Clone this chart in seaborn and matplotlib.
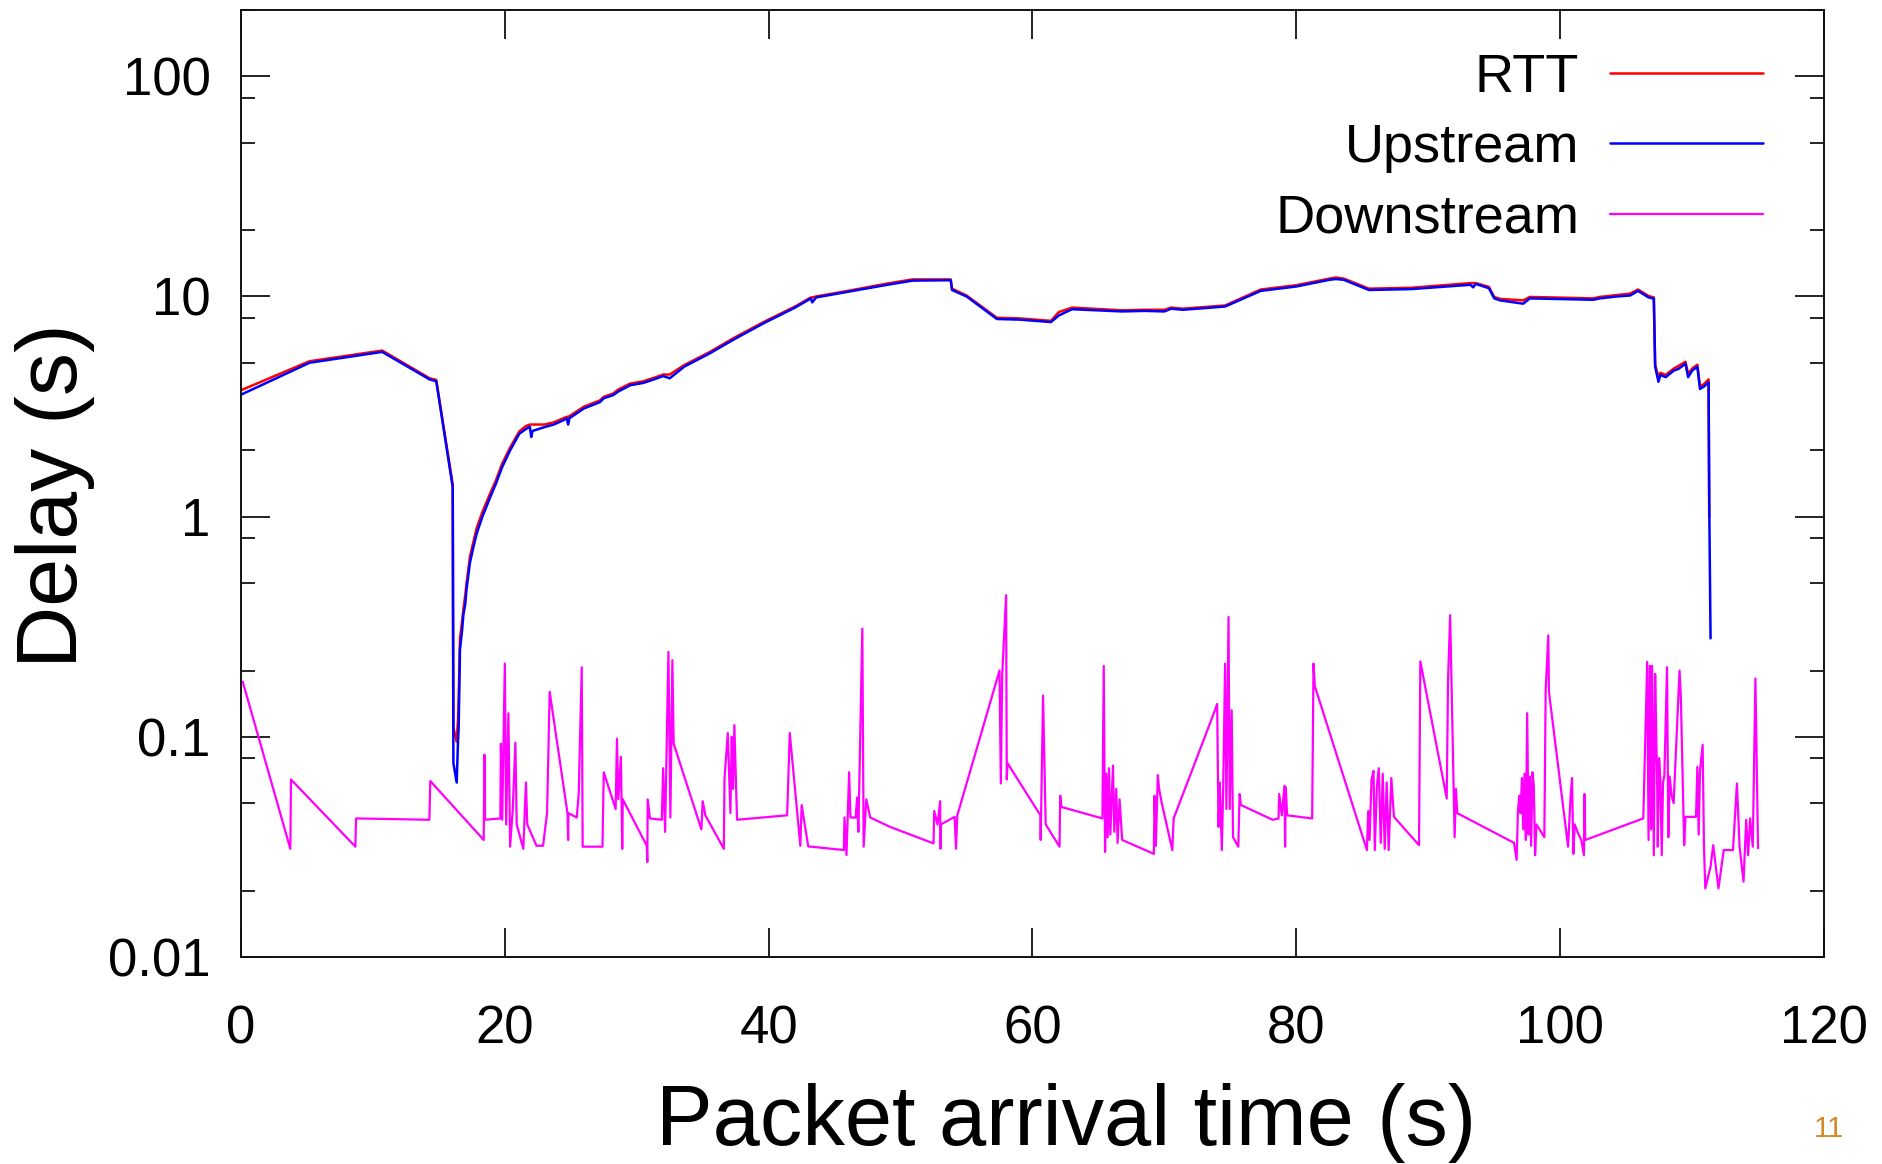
import matplotlib
matplotlib.use("Agg")
import matplotlib.pyplot as plt
import seaborn as sns
import pandas as pd
from matplotlib.ticker import LogLocator, NullFormatter

# ---------------- data ----------------
up_time = [0.0, 5.2, 10.7, 14.3, 14.8, 16.05, 16.1, 16.35, 16.45, 16.5, 16.6, 16.75, 16.86, 17.0,
           17.1, 17.36, 17.6, 17.87, 18.3, 18.9, 19.3, 19.8, 20.4, 21.1, 21.6, 21.9, 22.0, 22.1,
           23.0, 23.7, 24.2, 24.7, 24.8, 24.9, 26.0, 27.2, 27.5, 28.2, 28.6, 29.5, 30.5, 31.3,
           32.0, 32.5, 33.6, 35.5, 37.4, 39.7, 42.0, 43.2, 43.3, 43.6, 46.0, 49.0, 50.9, 53.8,
           53.9, 55.0, 57.3, 59.0, 61.4, 62.0, 63.0, 66.8, 68.5, 70.0, 70.5, 71.4, 74.6, 77.3,
           80.0, 82.5, 83.0, 83.6, 85.5, 88.7, 93.2, 93.4, 93.6, 94.6, 95.0, 95.45, 97.2, 97.7,
           102.5, 103.0, 104.3, 105.3, 105.9, 106.7, 107.1, 107.2, 107.45, 107.6, 108.0, 108.6,
           109.0, 109.5, 109.7, 110.0, 110.4, 110.6, 110.9, 111.25, 111.3, 111.4]
up_delay = [3.58, 5.0, 5.6, 4.2, 4.12, 1.36, 0.076, 0.062, 0.095, 0.11, 0.25, 0.30, 0.36, 0.40,
            0.47, 0.62, 0.72, 0.84, 1.0, 1.23, 1.40, 1.68, 2.0, 2.38, 2.50, 2.56, 2.30, 2.45,
            2.55, 2.62, 2.70, 2.79, 2.62, 2.80, 3.1, 3.31, 3.45, 3.56, 3.7, 3.95, 4.05, 4.2,
            4.35, 4.25, 4.8, 5.5, 6.4, 7.6, 8.9, 9.8, 9.4, 9.9, 10.5, 11.3, 11.8, 11.85,
            10.7, 10.0, 7.9, 7.85, 7.65, 8.2, 8.75, 8.55, 8.6, 8.55, 8.8, 8.7, 9.0, 10.6,
            11.1, 11.9, 12.0, 11.9, 10.7, 10.8, 11.3, 11.0, 11.4, 10.9, 9.8, 9.6, 9.27, 9.8,
            9.66, 9.8, 10.0, 10.1, 10.6, 9.9, 9.78, 4.8, 4.1, 4.4, 4.3, 4.6,
            4.7, 4.95, 4.3, 4.6, 4.8, 3.8, 3.9, 4.08, 1.15, 0.28]

rtt_time = [0.0, 5.2, 10.7, 14.3, 14.8, 16.05, 16.1, 16.35, 16.45, 16.5, 16.6, 16.75, 16.86, 17.0,
            17.1, 17.36, 17.6, 17.87, 18.3, 18.9, 19.3, 19.8, 20.4, 21.1, 21.6, 21.9, 22.0, 22.1,
            23.0, 23.7, 24.2, 24.7, 24.8, 24.9, 26.0, 27.2, 27.5, 28.2, 28.6, 29.5, 30.5, 31.3,
            32.0, 32.5, 33.6, 35.5, 37.4, 39.7, 42.0, 43.2, 43.3, 43.6, 46.0, 49.0, 50.9, 53.8,
            53.9, 55.0, 57.3, 59.0, 61.4, 62.0, 63.0, 66.8, 68.5, 70.0, 70.5, 71.4, 74.6, 77.3,
            80.0, 82.5, 83.0, 83.6, 85.5, 88.7, 93.2, 93.4, 93.6, 94.6, 95.0, 95.45, 97.2, 97.7,
            102.5, 103.0, 104.3, 105.3, 105.9, 106.7, 107.1, 107.2, 107.45, 107.6, 108.0, 108.6,
            109.0, 109.5, 109.7, 110.0, 110.4, 110.6, 110.9, 111.25, 111.3]
rtt_delay = [3.75, 5.08, 5.68, 4.25, 4.18, 1.40, 0.11, 0.095, 0.12, 0.15, 0.28, 0.33, 0.38, 0.44,
             0.50, 0.66, 0.76, 0.89, 1.05, 1.28, 1.45, 1.74, 2.06, 2.44, 2.58, 2.62, 2.62, 2.62,
             2.62, 2.68, 2.76, 2.84, 2.84, 2.86, 3.16, 3.37, 3.50, 3.62, 3.78, 4.02, 4.12, 4.27,
             4.42, 4.42, 4.88, 5.58, 6.5, 7.7, 9.0, 9.9, 9.9, 10.0, 10.6, 11.45, 11.95, 11.95,
             10.85, 10.1, 8.0, 7.95, 7.75, 8.5, 8.9, 8.65, 8.7, 8.7, 8.9, 8.8, 9.1, 10.75,
             11.25, 12.05, 12.2, 12.05, 10.85, 10.95, 11.5, 11.5, 11.5, 11.05, 9.95, 9.75, 9.6, 9.95,
             9.8, 9.95, 10.15, 10.3, 10.75, 10.05, 9.9, 4.9, 4.3, 4.5, 4.4, 4.7,
             4.85, 5.05, 4.45, 4.7, 4.9, 3.9, 4.0, 4.2, 1.0]

down_time = [0.13, 3.74, 3.79, 8.67, 8.72, 14.28, 14.35, 18.40, 18.45, 18.50, 19.66, 19.70, 19.80,
             20.00, 20.10, 20.27, 20.40, 20.60, 20.80, 20.90, 21.40, 21.60, 21.70, 22.40, 22.90,
             23.20, 23.40, 24.75, 24.80, 24.82, 25.45, 25.60, 25.83, 25.90, 27.40, 27.50, 28.40,
             28.50, 28.60, 28.80, 28.90, 28.94, 30.76, 30.80, 30.83, 31.00, 31.90, 32.00, 32.15,
             32.40, 32.55, 32.70, 32.80, 34.90, 35.00, 35.20, 36.60, 36.65, 36.90, 37.10, 37.20,
             37.30, 37.40, 37.60, 41.40, 41.60, 42.40, 42.50, 43.00, 45.70, 45.75, 45.90, 46.10,
             46.20, 46.60, 46.70, 46.80, 47.10, 47.20, 47.40, 47.70, 49.20, 52.50, 52.55, 52.80,
             53.00, 53.02, 53.05, 54.10, 54.20, 54.30, 57.50, 57.60, 57.70, 58.00, 58.05, 58.10,
             60.60, 60.62, 60.80, 61.00, 62.05, 62.10, 62.20, 65.30, 65.40, 65.50, 65.60, 65.70,
             65.80, 65.90, 66.10, 66.20, 66.35, 66.45, 66.60, 66.80, 69.20, 69.25, 69.35, 69.50,
             69.60, 69.80, 70.60, 70.70, 73.50, 74.00, 74.10, 74.20, 74.35, 74.45, 74.60, 74.70,
             74.86, 74.95, 75.10, 75.20, 75.60, 75.70, 75.80, 78.20, 78.65, 78.70, 78.90, 79.10,
             79.15, 79.20, 79.30, 81.20, 81.30, 81.40, 85.35, 85.45, 85.55, 85.70, 85.85, 85.95,
             86.10, 86.25, 86.40, 86.55, 86.70, 86.85, 87.00, 87.20, 87.40, 89.30, 89.40, 91.40,
             91.50, 91.66, 92.00, 92.10, 92.20, 96.50, 96.70, 96.80, 96.90, 97.00, 97.10, 97.20,
             97.30, 97.40, 97.50, 97.60, 97.70, 97.80, 97.90, 98.00, 98.10, 98.20, 98.80, 98.90,
             99.10, 99.15, 100.60, 100.80, 100.90, 101.00, 101.10, 101.40, 101.60, 101.80, 101.85,
             101.90, 106.30, 106.60, 106.70, 106.80, 106.90, 106.97, 107.10, 107.20, 107.30,
             107.35, 107.40, 107.50, 107.60, 107.70, 107.80, 107.90, 108.10, 108.20, 108.30,
             108.45, 108.60, 109.05, 109.15, 109.40, 109.50, 110.30, 110.40, 110.50, 110.60,
             110.80, 110.90, 111.00, 111.40, 111.60, 112.00, 112.40, 113.10, 113.40, 113.60,
             113.90, 114.10, 114.25, 114.40, 114.60, 114.80, 115.00]
down_delay = [0.178, 0.031, 0.064, 0.0317, 0.0426, 0.042, 0.063, 0.034, 0.083, 0.042, 0.0426, 0.093, 0.042,
              0.215, 0.040, 0.128, 0.0317, 0.047, 0.094, 0.040, 0.031, 0.062, 0.040, 0.032, 0.032,
              0.045, 0.160, 0.045, 0.034, 0.045, 0.043, 0.055, 0.207, 0.0317, 0.0317, 0.069, 0.047,
              0.098, 0.052, 0.081, 0.031, 0.052, 0.032, 0.027, 0.052, 0.0426, 0.042, 0.072, 0.037,
              0.243, 0.043, 0.223, 0.093, 0.038, 0.051, 0.044, 0.031, 0.064, 0.104, 0.045, 0.100,
              0.058, 0.113, 0.042, 0.044, 0.104, 0.032, 0.049, 0.0318, 0.0306, 0.043, 0.029, 0.069,
              0.043, 0.043, 0.053, 0.037, 0.31, 0.0317, 0.052, 0.043, 0.039, 0.0328, 0.046, 0.040,
              0.051, 0.031, 0.040, 0.0433, 0.031, 0.044, 0.20, 0.0614, 0.19, 0.44, 0.064, 0.076,
              0.044, 0.034, 0.154, 0.040, 0.0317, 0.054, 0.048, 0.0426, 0.21, 0.030, 0.068, 0.035,
              0.072, 0.036, 0.074, 0.037, 0.058, 0.033, 0.052, 0.034, 0.0294, 0.054, 0.032, 0.067,
              0.058, 0.050, 0.0306, 0.0426, 0.117, 0.141, 0.039, 0.062, 0.0306, 0.056, 0.215, 0.047,
              0.35, 0.047, 0.132, 0.035, 0.0317, 0.055, 0.049, 0.042, 0.0426, 0.055, 0.044, 0.060,
              0.0317, 0.059, 0.044, 0.0426, 0.215, 0.17, 0.0306, 0.046, 0.034, 0.064, 0.070, 0.0306,
              0.059, 0.072, 0.033, 0.068, 0.031, 0.062, 0.0306, 0.065, 0.0433, 0.0322, 0.22, 0.0525,
              0.18, 0.357, 0.035, 0.058, 0.045, 0.033, 0.0276, 0.046, 0.054, 0.045, 0.065, 0.038,
              0.068, 0.034, 0.128, 0.036, 0.066, 0.032, 0.069, 0.060, 0.029, 0.040, 0.035, 0.163,
              0.289, 0.16, 0.0317, 0.055, 0.065, 0.0294, 0.040, 0.036, 0.034, 0.029, 0.055,
              0.034, 0.0426, 0.219, 0.034, 0.21, 0.038, 0.21, 0.029, 0.193, 0.090,
              0.066, 0.0317, 0.080, 0.063, 0.029, 0.062, 0.067, 0.207, 0.035, 0.066,
              0.054, 0.050, 0.20, 0.15, 0.0322, 0.0433, 0.0433, 0.073, 0.036, 0.070,
              0.092, 0.0322, 0.0205, 0.0257, 0.0322, 0.0205, 0.0306, 0.0306, 0.0614, 0.0317,
              0.022, 0.042, 0.029, 0.0426, 0.0317, 0.184, 0.0312]

series_names = ["RTT", "Upstream", "Downstream"]
series_colors = ["#ff0000", "#0000ff", "#ff00ff"]
series_widths = [1.8, 1.8, 1.6]
x_ticks = [0, 20, 40, 60, 80, 100, 120]
y_ticks = [0.01, 0.1, 1, 10, 100]
y_tick_labels = ["0.01", "0.1", "1", "10", "100"]

# ---------------- figure ----------------
sns.set_theme(style="white")
plt.rcParams["font.family"] = ["Liberation Sans", "DejaVu Sans"]
plt.rcParams["text.color"] = "black"
plt.rcParams["xtick.color"] = "black"
plt.rcParams["ytick.color"] = "black"

W, H = 1883, 1164
fig = plt.figure(figsize=(W / 100, H / 100), dpi=100)
L, R, T, B = 241, 1824, 10, 957
ax = fig.add_axes([L / W, 1 - B / H, (R - L) / W, (B - T) / H])

frames = [
    pd.DataFrame({"t": rtt_time, "d": rtt_delay}),
    pd.DataFrame({"t": up_time, "d": up_delay}),
    pd.DataFrame({"t": down_time, "d": down_delay}),
]
for df, name, col, lw in zip(frames, series_names, series_colors, series_widths):
    sns.lineplot(data=df, x="t", y="d", ax=ax, color=col, lw=lw, label=name,
                 sort=False, estimator=None)

ax.set_yscale("log")
ax.set_xlim(0, 120)
ax.set_ylim(0.01, 200)
ax.set_xticks(x_ticks)
ax.set_xticklabels([str(v) for v in x_ticks])
ax.set_yticks(y_ticks)
ax.set_yticklabels(y_tick_labels)
ax.yaxis.set_minor_locator(LogLocator(base=10, subs=(2.0, 5.0, 8.0), numticks=30))
ax.yaxis.set_minor_formatter(NullFormatter())
ax.set_xlabel("")
ax.set_ylabel("")

for sp in ax.spines.values():
    sp.set_linewidth(1.4)
    sp.set_color("#111111")

ax.tick_params(which="both", direction="in", top=True, right=True, bottom=True, left=True,
               width=1.3, color="#111111")
ax.tick_params(which="major", length=21, labelsize=38, labelcolor="black")
ax.tick_params(axis="x", which="major", pad=34)
ax.tick_params(axis="y", which="major", pad=22)
ax.tick_params(which="minor", length=10)

handles, labels = ax.get_legend_handles_labels()
leg = ax.legend(handles, labels, loc="upper right", bbox_to_anchor=(0.9754, 0.9778),
                borderaxespad=0, borderpad=0.4, frameon=False, markerfirst=False,
                fontsize=39, handlelength=2.83, handletextpad=0.57, labelspacing=0.38)
for txt in leg.get_texts():
    txt.set_color("black")

fig.text(1066 / W, 1 - 1123 / H, "Packet arrival time (s)", ha="center", va="center",
         fontsize=61, color="black")
fig.text(55 / W, 1 - 496 / H, "Delay (s)", ha="center", va="center", rotation=90,
         fontsize=62, color="black")
fig.text(1829 / W, 1 - 1129 / H, "11", ha="center", va="center", fontsize=21,
         color="#d08a28")

fig.savefig("out.png", dpi=100)
